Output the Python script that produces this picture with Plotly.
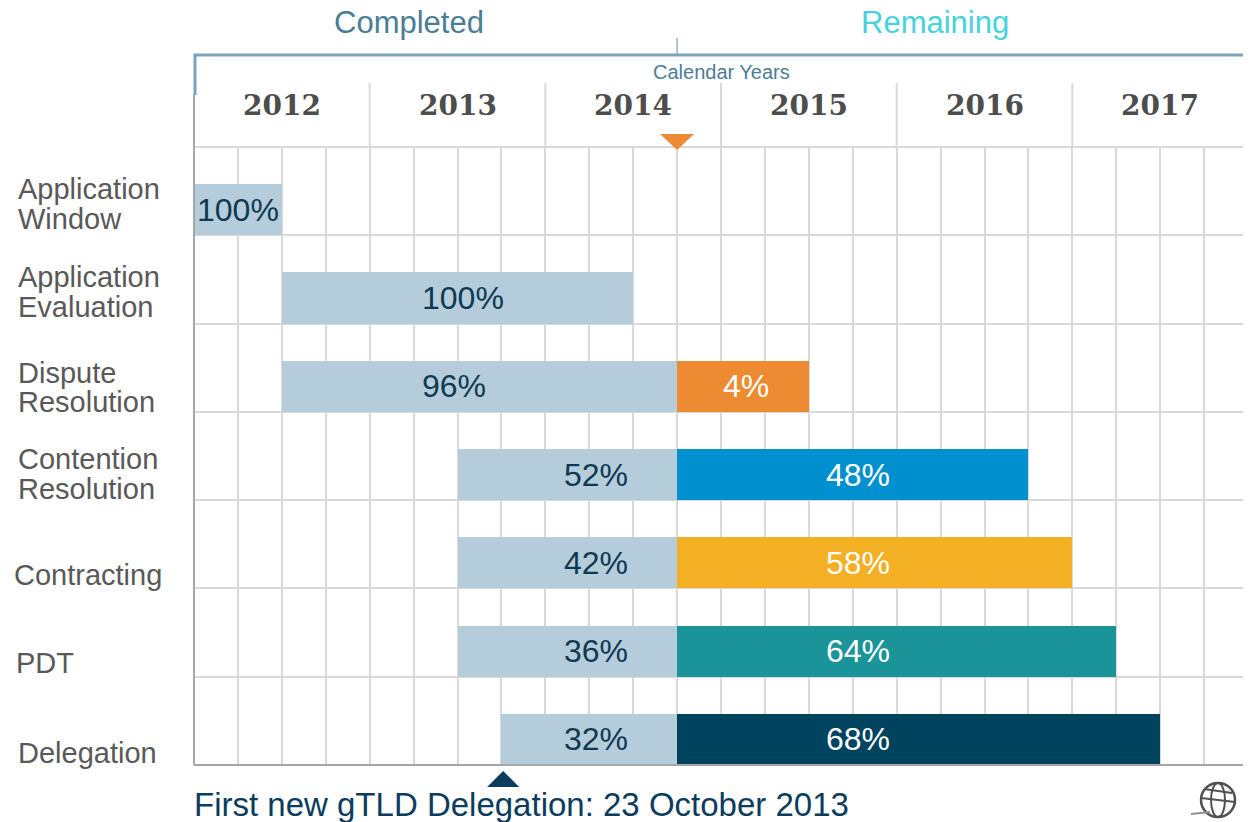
import plotly.graph_objects as go

# ---------------- data ----------------
phases = ["Application Window", "Application Evaluation", "Dispute Resolution",
          "Contention Resolution", "Contracting", "PDT", "Delegation"]
label_lines = [["Application", "Window"], ["Application", "Evaluation"],
               ["Dispute", "Resolution"], ["Contention", "Resolution"],
               ["Contracting"], ["PDT"], ["Delegation"]]
start_year = [2012.0, 2012.5, 2012.5, 2013.5, 2013.5, 2013.5, 2013.75]
end_year = [2012.5, 2014.5, 2015.5, 2016.75, 2017.0, 2017.25, 2017.5]
today_year = 2014.75
completed_pct = [100, 100, 96, 52, 42, 36, 32]
remaining_pct = [None, None, 4, 48, 58, 64, 68]
years = [2012, 2013, 2014, 2015, 2016, 2017]
first_delegation_year = 2013.76  # 23 October 2013 marker

# ---------------- styles / layout ----------------
OFF = 8                       # page body margin offset
W, H = 1251 - OFF, 822 - OFF
PLOT_L, PLOT_R, PLOT_T, PLOT_B = 194, 1248, 147, 765   # in page pixels
L, T = PLOT_L - OFF, PLOT_T - OFF
R, B = W - (PLOT_R - OFF), H - (PLOT_B - OFF)
PW, PH = PLOT_R - PLOT_L, PLOT_B - PLOT_T
X0, X1 = 2012, 2018
NROWS = len(phases)

light = "#b5cddb"
rem_colors = [None, None, "#ed8b32", "#0090cf", "#f3b024", "#1a9399", "#00435f"]
grid = "#d9d9d9"
axis_gray = "#a6a6a6"
bracket = "#7ba3bd"
navy_txt = "#0d3a52"
label_gray = "#595959"
SANS = "Liberation Sans, Arial, sans-serif"


def py(ypx):
    return (PLOT_B - ypx) / PH


def px(xpx):
    return (xpx - PLOT_L) / PW


bar_h = 0.58
centers = [NROWS - 1 - i + bar_h / 2 for i in range(NROWS)]

comp_end = [min(e, today_year) for e in end_year]
comp_len = [ce - s for ce, s in zip(comp_end, start_year)]
rem_base = [today_year if e > today_year else None for e in end_year]
rem_len = [e - today_year if e > today_year else None for e in end_year]

fig = go.Figure()
fig.add_trace(go.Bar(orientation="h", y=centers, x=comp_len, base=start_year,
                     width=bar_h, marker=dict(color=light, line=dict(width=0)),
                     hoverinfo="skip", showlegend=False))
fig.add_trace(go.Bar(orientation="h", y=centers, x=rem_len, base=rem_base,
                     width=bar_h,
                     marker=dict(color=[c if c else light for c in rem_colors], line=dict(width=0)),
                     hoverinfo="skip", showlegend=False))

annotations = []
# percentage labels (label anchor positions, in years)
comp_label_x = [2012.25, 2013.53, 2013.48, 2014.29, 2014.29, 2014.29, 2014.29]
rem_label_x = [None, None, 2015.14, 2015.78, 2015.78, 2015.78, 2015.78]
for i in range(NROWS):
    annotations.append(dict(x=comp_label_x[i], y=centers[i], xref="x", yref="y",
                            xanchor="center", yanchor="middle",
                            text=f"{completed_pct[i]}%", showarrow=False,
                            font=dict(family=SANS, size=32, color=navy_txt)))
    if remaining_pct[i] is not None:
        annotations.append(dict(x=rem_label_x[i], y=centers[i], xref="x", yref="y",
                                xanchor="center", yanchor="middle",
                                text=f"{remaining_pct[i]}%", showarrow=False,
                                font=dict(family=SANS, size=32, color="white")))

# row labels
label_pos = [[(16, 189), (16, 219)], [(16, 277), (16, 307)], [(16, 373), (16, 402)],
             [(16, 459), (16, 489)], [(12, 575)], [(14, 663)], [(16, 753)]]
for lines, poss in zip(label_lines, label_pos):
    for txt, (lx, ly) in zip(lines, poss):
        annotations.append(dict(x=px(lx), y=py(ly), xref="paper", yref="paper",
                                xanchor="left", yanchor="middle", text=txt,
                                showarrow=False,
                                font=dict(family=SANS, size=29, color=label_gray)))

# header
annotations.append(dict(x=px(409), y=py(23), xref="paper", yref="paper", text="Completed",
                        showarrow=False, xanchor="center", yanchor="middle",
                        font=dict(family=SANS, size=31, color="#4a7d96")))
annotations.append(dict(x=px(935), y=py(23), xref="paper", yref="paper", text="Remaining",
                        showarrow=False, xanchor="center", yanchor="middle",
                        font=dict(family=SANS, size=31, color="#45d2dd")))
annotations.append(dict(x=px(721), y=py(72), xref="paper", yref="paper", text="Calendar Years",
                        showarrow=False, xanchor="center", yanchor="middle",
                        font=dict(family=SANS, size=20, color="#4a7d96")))
for yr in years:
    annotations.append(dict(x=yr + 0.5, y=py(106), xref="x", yref="paper", text=f"<b>{yr}</b>",
                            showarrow=False, xanchor="center", yanchor="middle",
                            font=dict(family="DejaVu Serif, serif", size=28, color="#4d4d4d")))
annotations.append(dict(x=px(192), y=py(805), xref="paper", yref="paper",
                        text="First new gTLD Delegation: 23 October 2013",
                        showarrow=False, xanchor="left", yanchor="middle",
                        font=dict(family=SANS, size=33, color="#0b3c5d")))

shapes = []
# year separators in header
for yr in years[1:]:
    shapes.append(dict(type="line", xref="x", yref="paper", x0=yr, x1=yr,
                       y0=py(83), y1=py(147), line=dict(color=grid, width=2)))
# top grid line
shapes.append(dict(type="line", xref="paper", yref="paper", x0=0, x1=1, y0=1, y1=1,
                   line=dict(color=grid, width=2)))
# left / bottom / right axis lines
shapes.append(dict(type="line", xref="paper", yref="paper", x0=0, x1=0, y0=0, y1=py(95),
                   line=dict(color=axis_gray, width=2)))
shapes.append(dict(type="line", xref="paper", yref="paper", x0=0, x1=1, y0=0, y1=0,
                   line=dict(color=axis_gray, width=2)))
shapes.append(dict(type="line", xref="paper", yref="paper", x0=px(1247), x1=px(1247), y0=0, y1=1,
                   line=dict(color="#c8c8c8", width=2)))
# bracket
shapes.append(dict(type="path", xref="paper", yref="paper",
                   path=f"M {px(195)},{py(95)} L {px(195)},{py(55)} L {px(1248)},{py(55)} L {px(1248)},{py(92)}",
                   line=dict(color=bracket, width=3)))
shapes.append(dict(type="line", xref="x", yref="paper", x0=today_year, x1=today_year,
                   y0=py(38), y1=py(55), line=dict(color=bracket, width=1.2)))
# today marker (orange)
hw = 17 / PW * (X1 - X0)
shapes.append(dict(type="path", xref="x", yref="paper",
                   path=f"M {today_year - hw},{py(134)} L {today_year + hw},{py(134)} L {today_year},{py(150)} Z",
                   fillcolor="#ed8b32", line=dict(width=0)))
# first delegation marker
hw2 = 16 / PW * (X1 - X0)
shapes.append(dict(type="path", xref="x", yref="paper",
                   path=f"M {first_delegation_year - hw2},{py(787)} L {first_delegation_year + hw2},{py(787)} L {first_delegation_year},{py(771)} Z",
                   fillcolor="#0b3c5d", line=dict(width=0)))
# globe icon
gx, gy, gr = 1218, 800, 17
gcol = "#505050"
shapes.append(dict(type="circle", xref="paper", yref="paper",
                   x0=px(gx - gr), x1=px(gx + gr), y0=py(gy + gr), y1=py(gy - gr),
                   line=dict(color=gcol, width=2.5)))
shapes.append(dict(type="circle", xref="paper", yref="paper",
                   x0=px(gx - 7), x1=px(gx + 7), y0=py(gy + gr), y1=py(gy - gr),
                   line=dict(color=gcol, width=2)))
shapes.append(dict(type="line", xref="paper", yref="paper",
                   x0=px(gx - gr), x1=px(gx + gr), y0=py(gy - 2), y1=py(gy + 2),
                   line=dict(color=gcol, width=2)))
shapes.append(dict(type="line", xref="paper", yref="paper",
                   x0=px(gx - 14), x1=px(gx + 14), y0=py(gy - 11), y1=py(gy - 7),
                   line=dict(color=gcol, width=2)))
shapes.append(dict(type="line", xref="paper", yref="paper",
                   x0=px(gx - 27), x1=px(gx - 8), y0=py(gy + 14), y1=py(gy + 12),
                   line=dict(color="#909090", width=2)))

fig.update_layout(
    width=W, height=H,
    margin=dict(l=L, r=R, t=T, b=B, pad=0),
    plot_bgcolor="white", paper_bgcolor="white",
    barmode="overlay", bargap=0,
    xaxis=dict(range=[X0, X1], tick0=X0, dtick=0.25, showgrid=True, gridcolor=grid,
               gridwidth=2, showticklabels=False, zeroline=False, showline=False,
               fixedrange=True),
    yaxis=dict(range=[0, NROWS], tick0=0, dtick=1, showgrid=True, gridcolor=grid,
               gridwidth=2, showticklabels=False, zeroline=False, showline=False,
               fixedrange=True),
    annotations=annotations,
    shapes=shapes,
    showlegend=False,
)

fig.write_html("out.html")
